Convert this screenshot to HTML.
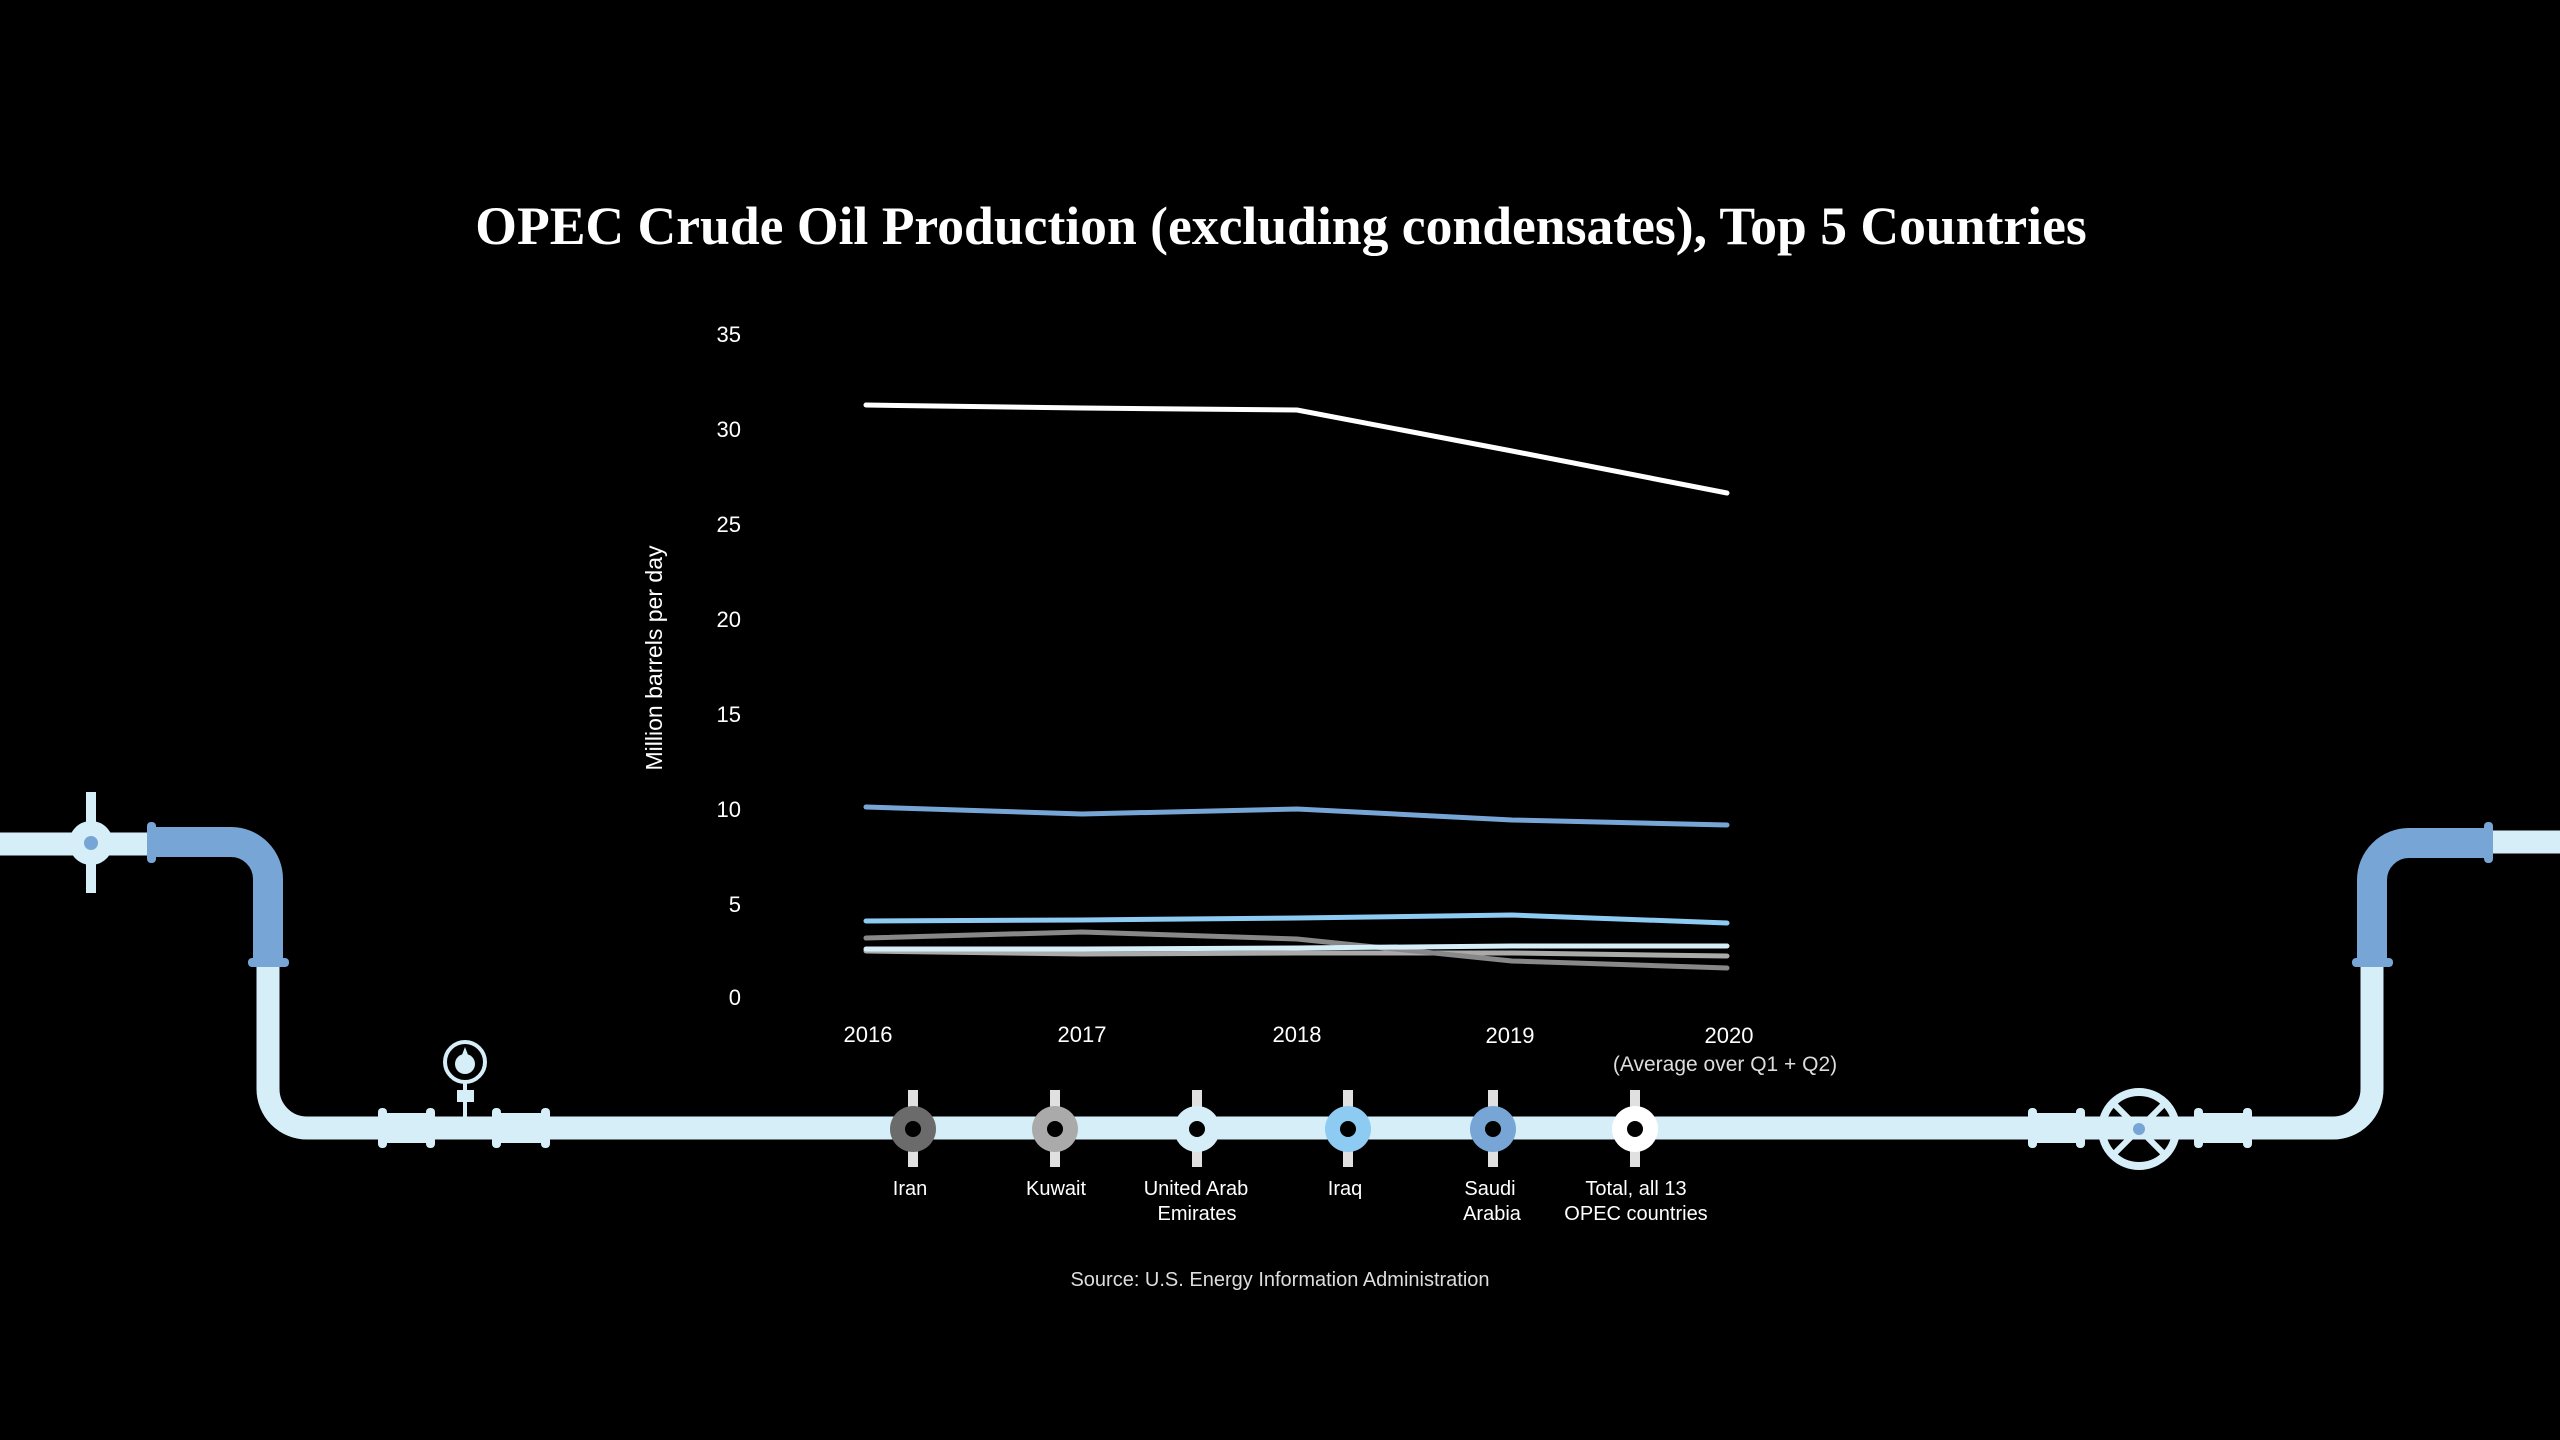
<!DOCTYPE html>
<html><head><meta charset="utf-8"><style>
html,body{margin:0;padding:0;background:#000;}
svg{display:block;}
text{font-family:"Liberation Sans",sans-serif;fill:#fff;}
</style></head><body>
<svg width="2560" height="1440" viewBox="0 0 2560 1440" xmlns="http://www.w3.org/2000/svg">
<rect width="2560" height="1440" fill="#000"/>
<text x="1281" y="244" text-anchor="middle" style="font-family:'Liberation Serif',serif;font-weight:bold;font-size:53.6px">OPEC Crude Oil Production (excluding condensates), Top 5 Countries</text>

<g font-size="22" text-anchor="end">
<text x="741" y="342">35</text><text x="741" y="437">30</text><text x="741" y="532">25</text>
<text x="741" y="627">20</text><text x="741" y="722">15</text><text x="741" y="817">10</text>
<text x="741" y="912">5</text><text x="741" y="1005">0</text>
</g>
<text transform="translate(662,658) rotate(-90)" text-anchor="middle" font-size="23">Million barrels per day</text>
<g font-size="22" text-anchor="middle">
<text x="868" y="1042">2016</text><text x="1082" y="1042">2017</text><text x="1297" y="1042">2018</text>
<text x="1510" y="1043">2019</text><text x="1729" y="1043">2020</text>
</g>
<text x="1725" y="1071" text-anchor="middle" font-size="21" style="fill:#ddd">(Average over Q1 + Q2)</text>

<g fill="none" stroke-width="5" stroke-linejoin="round" stroke-linecap="round">
<polyline stroke="#aaaaaa" points="866,951 1082,954 1297,953 1512,953 1727,956"/>
<polyline stroke="#888888" points="866,938 1082,932 1297,939 1512,961 1727,968"/>
<polyline stroke="#d6eef8" points="866,949 1082,949 1297,948 1512,946 1727,946"/>
<polyline stroke="#8ecbf3" points="866,921 1082,920 1297,918 1512,915 1727,923"/>
<polyline stroke="#77a6d6" points="866,807 1082,814 1297,809 1512,820 1727,825"/>
<polyline stroke="#ffffff" points="866,405 1082,408 1297,410 1512,451 1727,493"/>
</g>

<g fill="none" stroke-linecap="butt">
<line x1="0" y1="844" x2="152" y2="844" stroke="#d6eef8" stroke-width="23"/>
<path d="M150,842 H231 A37,37 0 0 1 268,879 V962" stroke="#77a6d6" stroke-width="30"/>
<path d="M268,962 V1089 A39,39 0 0 0 307,1128 H2333 A39,39 0 0 0 2372,1089 V962" stroke="#d6eef8" stroke-width="23"/>
<path d="M2372,962 V880 A37,37 0 0 1 2409,843 H2490" stroke="#77a6d6" stroke-width="30"/>
<line x1="2488" y1="842" x2="2560" y2="842" stroke="#d6eef8" stroke-width="23"/>
</g>
<g fill="#77a6d6">
<rect x="147" y="822" width="9" height="41" rx="4"/>
<rect x="248" y="958" width="41" height="9" rx="4"/>
<rect x="2352" y="958" width="41" height="9" rx="4"/>
<rect x="2484" y="822" width="9" height="41" rx="4"/>
</g>
<g fill="#d6eef8">
<rect x="378" y="1108" width="9" height="40" rx="4"/><rect x="426" y="1108" width="9" height="40" rx="4"/>
<rect x="382" y="1113" width="48" height="30"/>
<rect x="492" y="1108" width="9" height="40" rx="4"/><rect x="541" y="1108" width="9" height="40" rx="4"/>
<rect x="496" y="1113" width="50" height="30"/>
<rect x="2028" y="1108" width="9" height="40" rx="4"/><rect x="2076" y="1108" width="9" height="40" rx="4"/>
<rect x="2032" y="1113" width="48" height="30"/>
<rect x="2194" y="1108" width="9" height="40" rx="4"/><rect x="2243" y="1108" width="9" height="40" rx="4"/>
<rect x="2198" y="1113" width="49" height="30"/>
<rect x="86" y="792" width="10" height="101"/>
<circle cx="91" cy="843" r="22"/>
<rect x="463" y="1080" width="4" height="40"/>
<rect x="457" y="1090" width="17" height="12"/>
<circle cx="465" cy="1064" r="10"/>
<path d="M460,1060 L465,1047 L470,1060 Z"/>
</g>
<circle cx="91" cy="843" r="7" fill="#77a6d6"/>
<circle cx="465" cy="1062" r="20" fill="none" stroke="#d6eef8" stroke-width="4"/>
<circle cx="2139" cy="1129" r="37" fill="none" stroke="#d6eef8" stroke-width="8"/>
<g stroke="#d6eef8" stroke-width="6">
<line x1="2113" y1="1103" x2="2165" y2="1155"/><line x1="2165" y1="1103" x2="2113" y2="1155"/>
</g>
<circle cx="2139" cy="1129" r="6" fill="#77a6d6"/>

<g>
<g fill="#e0e0e0">
<rect x="908" y="1090" width="10" height="77"/><rect x="1050" y="1090" width="10" height="77"/>
<rect x="1192" y="1090" width="10" height="77"/><rect x="1343" y="1090" width="10" height="77"/>
<rect x="1488" y="1090" width="10" height="77"/><rect x="1630" y="1090" width="10" height="77"/>
</g>
<circle cx="913" cy="1129" r="23" fill="#6b6b6b"/>
<circle cx="1055" cy="1129" r="23" fill="#aaaaaa"/>
<circle cx="1197" cy="1129" r="23" fill="#d6eef8"/>
<circle cx="1348" cy="1129" r="23" fill="#8ecbf3"/>
<circle cx="1493" cy="1129" r="23" fill="#77a6d6"/>
<circle cx="1635" cy="1129" r="23" fill="#ffffff"/>
<g fill="#000">
<circle cx="913" cy="1129" r="8"/><circle cx="1055" cy="1129" r="8"/><circle cx="1197" cy="1129" r="8"/>
<circle cx="1348" cy="1129" r="8"/><circle cx="1493" cy="1129" r="8"/><circle cx="1635" cy="1129" r="8"/>
</g>
</g>
<g font-size="20" text-anchor="middle">
<text x="910" y="1195">Iran</text>
<text x="1056" y="1195">Kuwait</text>
<text x="1196" y="1195">United Arab</text><text x="1197" y="1220">Emirates</text>
<text x="1345" y="1195">Iraq</text>
<text x="1490" y="1195">Saudi</text><text x="1492" y="1220">Arabia</text>
<text x="1636" y="1195">Total, all 13</text><text x="1636" y="1220">OPEC countries</text>
</g>
<text x="1280" y="1286" text-anchor="middle" font-size="20" style="fill:#ddd">Source: U.S. Energy Information Administration</text>
</svg>
</body></html>
